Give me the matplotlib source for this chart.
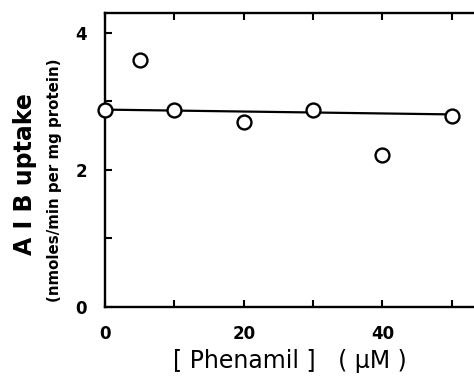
import matplotlib
matplotlib.use("Agg")
from matplotlib import pyplot as plt

# data
phenamil = [0, 5, 10, 20, 30, 40, 50]
uptake = [2.88, 3.60, 2.87, 2.70, 2.87, 2.22, 2.79]

# fitted line
line_x = [0, 50]
line_y = [2.88, 2.81]

xticks = [0, 10, 20, 30, 40, 50]
xticklabels = ["0", "", "20", "", "40", ""]
yticks = [0, 1, 2, 3, 4]
yticklabels = ["0", "", "2", "", "4"]

fig = plt.figure(figsize=(4.74, 3.76), dpi=100)
ax = fig.add_axes([0.2215, 0.1835, 0.7785, 0.782])

ax.plot(line_x, line_y, color="black", lw=1.6, zorder=2)
ax.plot(phenamil, uptake, "o", ms=10, mfc="white", mec="black", mew=1.7,
        zorder=3, clip_on=False)

ax.set_xlim(0, 53.2)
ax.set_ylim(0, 4.29)
ax.set_xticks(xticks)
ax.set_xticklabels(xticklabels)
ax.set_yticks(yticks)
ax.set_yticklabels(yticklabels)
ax.tick_params(direction="in", length=5, width=1.5, labelsize=12,
               top=True, pad=13)
for lab in ax.get_xticklabels() + ax.get_yticklabels():
    lab.set_fontweight("bold")
for s in ["left", "bottom", "top"]:
    ax.spines[s].set_linewidth(1.7)
ax.spines["right"].set_visible(False)

ax.set_xlabel("[ Phenamil ]   ( μM )", fontsize=17, labelpad=4)
fig.text(0.053, 0.537, "A I B uptake", rotation=90, fontsize=17,
         fontweight="bold", ha="center", va="center")
fig.text(0.114, 0.521, "(nmoles/min per mg protein)", rotation=90,
         fontsize=10.8, fontweight="bold", ha="center", va="center")

fig.savefig("out.png", dpi=100)
